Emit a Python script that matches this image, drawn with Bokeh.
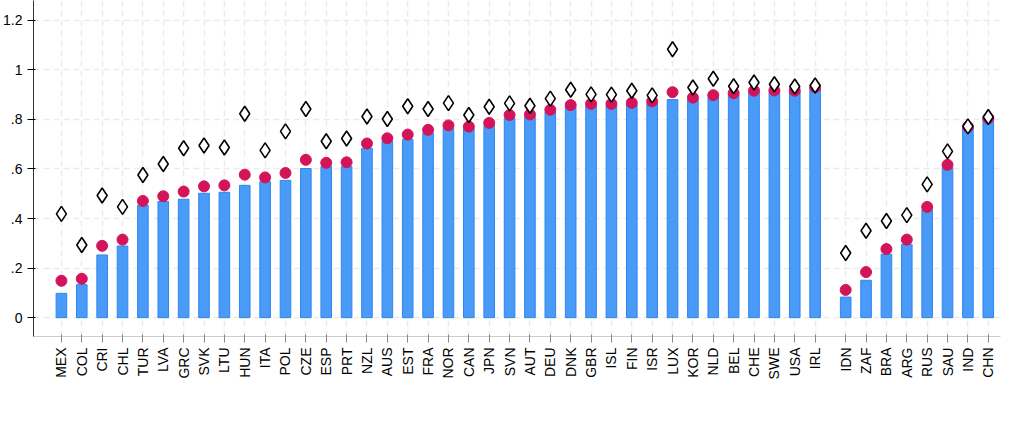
from bokeh.plotting import figure
from bokeh.models import Range1d, FixedTicker, Legend, LegendItem
from bokeh.embed import file_html
from bokeh.resources import INLINE

countries = ["MEX","COL","CRI","CHL","TUR","LVA","GRC","SVK","LTU","HUN","ITA","POL","CZE","ESP","PRT","NZL","AUS","EST","FRA","NOR","CAN","JPN","SVN","AUT","DEU","DNK","GBR","ISL","FIN","ISR","LUX","KOR","NLD","BEL","CHE","SWE","USA","IRL",
             "IDN","ZAF","BRA","ARG","RUS","SAU","IND","CHN"]
baseline = [0.098,0.133,0.253,0.289,0.454,0.469,0.478,0.502,0.506,0.534,0.550,0.554,0.602,0.610,0.610,0.684,0.713,0.720,0.745,0.763,0.763,0.776,0.805,0.812,0.830,0.850,0.855,0.855,0.860,0.865,0.880,0.880,0.890,0.900,0.910,0.910,0.912,0.925,
            0.083,0.151,0.256,0.296,0.435,0.605,0.766,0.806]
spillover = [0.149,0.157,0.290,0.315,0.471,0.490,0.509,0.530,0.534,0.577,0.566,0.584,0.637,0.625,0.627,0.703,0.724,0.739,0.758,0.776,0.771,0.786,0.818,0.820,0.839,0.858,0.863,0.863,0.867,0.873,0.910,0.888,0.898,0.906,0.916,0.917,0.916,0.930,
             0.112,0.184,0.277,0.315,0.447,0.617,0.770,0.805]
stronger = [0.419,0.293,0.493,0.447,0.576,0.620,0.684,0.695,0.687,0.823,0.675,0.752,0.842,0.712,0.723,0.812,0.802,0.853,0.842,0.866,0.818,0.851,0.865,0.855,0.884,0.920,0.901,0.900,0.916,0.897,1.083,0.929,0.964,0.934,0.949,0.942,0.933,0.937,
            0.261,0.351,0.390,0.414,0.538,0.671,0.772,0.810]
n_first = 38
yticks = [0, 0.2, 0.4, 0.6, 0.8, 1.0, 1.2]
ytick_labels = ["0", ".2", ".4", ".6", ".8", "1", "1.2"]

xs = [i if i < n_first else i + 0.5 for i in range(len(countries))]

p = figure(frame_width=967, frame_height=336, output_backend="svg", toolbar_location=None,
           x_range=Range1d(-1.37, xs[-1] + 0.6), y_range=Range1d(-0.076, 1.28),
           min_border_left=5, min_border_right=2, min_border_top=0, min_border_bottom=0)
p.outline_line_color = None
p.background_fill_color = "white"
b = p.vbar(x=xs, top=baseline, width=0.52, fill_color="#4a9af7", line_color="#2d86f2", line_width=1)
s = p.scatter(x=xs, y=spillover, size=11, fill_color="#d4145a", line_color="#d4145a")
d = p.scatter(x=xs, y=stronger, marker="diamond", size=15, fill_color="white", line_color="black", line_width=1.6)

p.xaxis.ticker = FixedTicker(ticks=xs)
p.xaxis.major_label_overrides = {x: c for x, c in zip(xs, countries)}
p.xaxis.major_label_orientation = 1.5708
p.yaxis.ticker = FixedTicker(ticks=yticks)
p.yaxis.major_label_overrides = {t: l for t, l in zip(yticks, ytick_labels)}
for ax in (p.xaxis[0], p.yaxis[0]):
    ax.major_label_text_font = "Liberation Sans"
    ax.major_label_text_font_size = "14px"
    ax.major_label_text_color = "black"
    ax.major_tick_line_color = "black"
    ax.minor_tick_line_color = None
p.xaxis.axis_line_color = "#cccccc"
p.xaxis.major_tick_line_color = "#888888"
p.yaxis.axis_line_color = "#333333"
p.xgrid.grid_line_color = "#ebebeb"
p.xgrid.grid_line_dash = "6 4"
p.ygrid.grid_line_color = "#ebebeb"
p.ygrid.grid_line_dash = "6 4"
p.xgrid.grid_line_width = 1.5
p.ygrid.grid_line_width = 1.5

legend = Legend(items=[LegendItem(label="Baseline scenario", renderers=[b]),
                       LegendItem(label="Spillover scenario", renderers=[s]),
                       LegendItem(label="Stronger spillovers scenario", renderers=[d])],
                orientation="horizontal", location="center",
                label_text_font="Liberation Sans", label_text_font_size="19px",
                border_line_color=None, spacing=30, padding=2, margin=4,
                glyph_width=40, glyph_height=20)
p.add_layout(legend, "below")

open("out.html", "w").write(file_html(p, INLINE))
